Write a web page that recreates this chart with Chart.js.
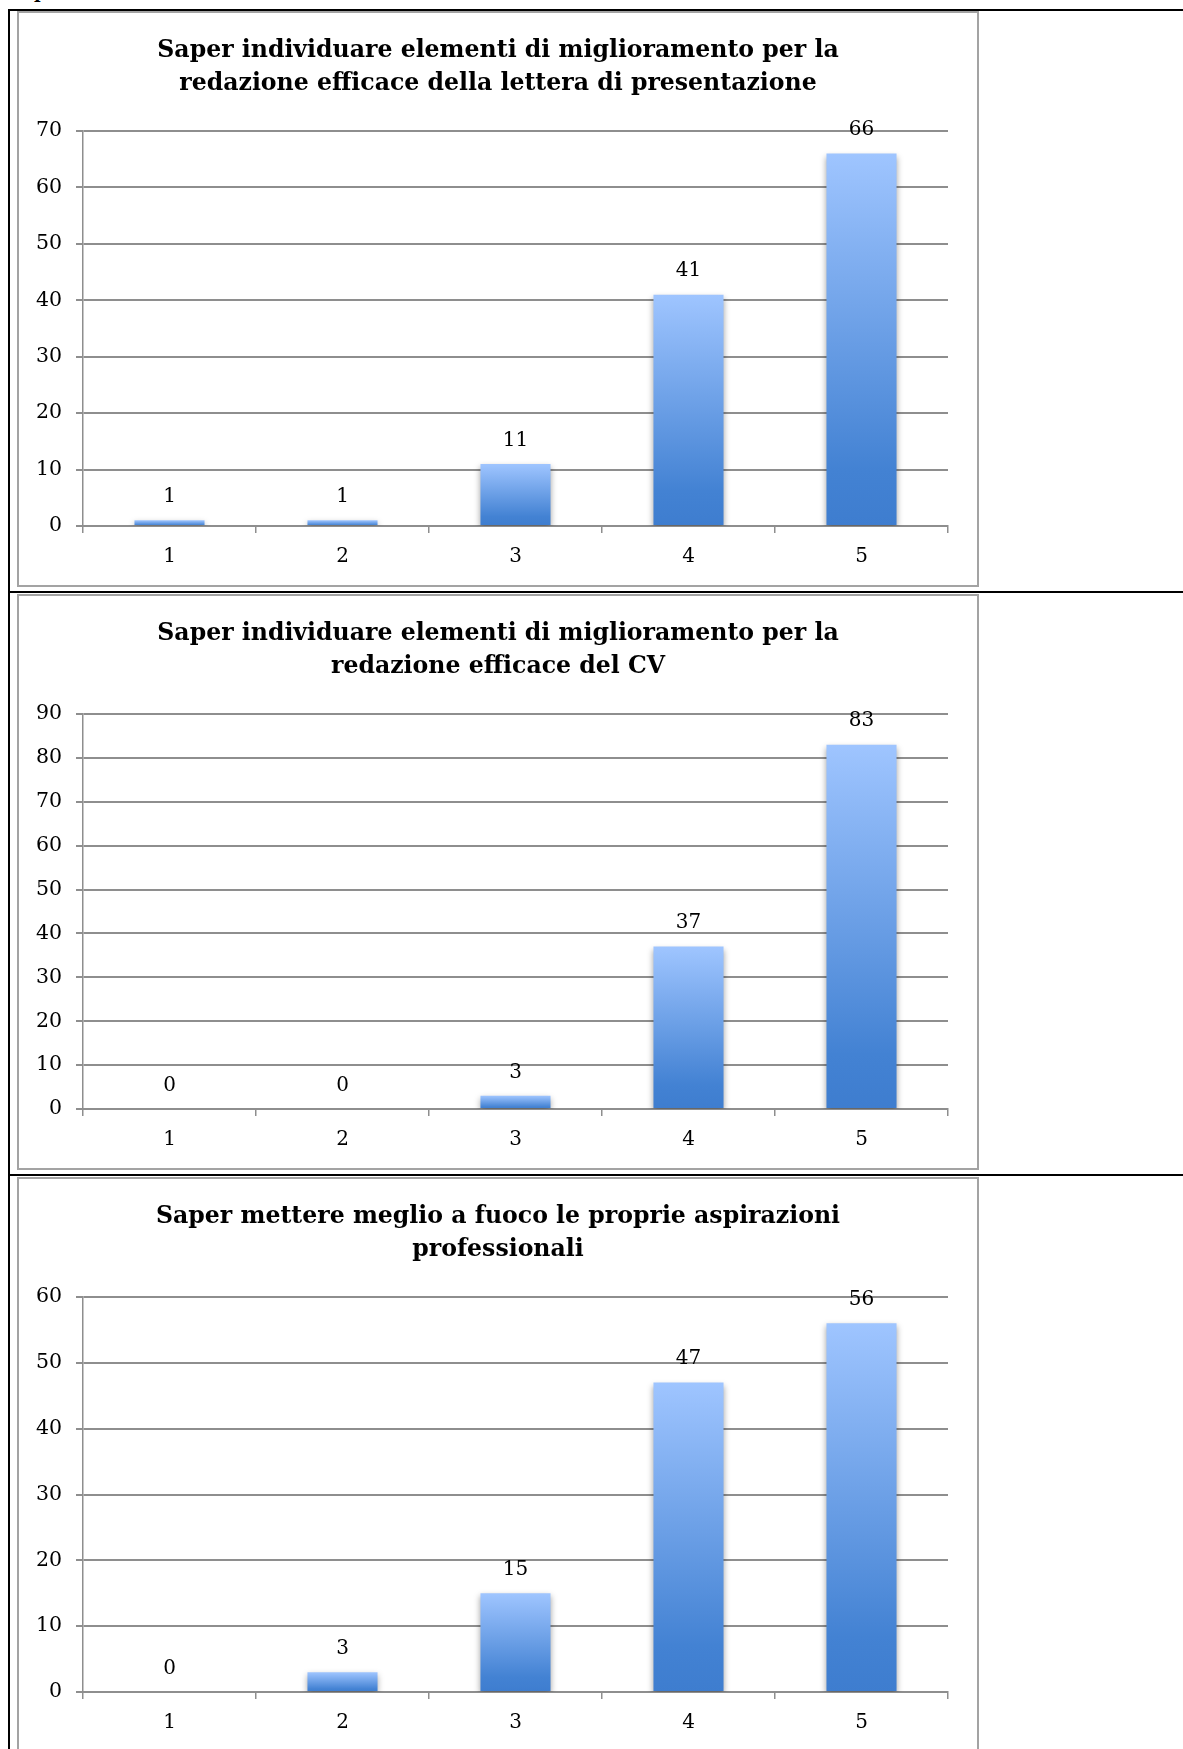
<!DOCTYPE html>
<html>
<head>
<meta charset="utf-8">
<script src="https://cdn.jsdelivr.net/npm/chart.js@4.4.1/dist/chart.umd.min.js"></script>
<style>
  body { margin: 0; background: #fff; width: 1183px; height: 1749px; position: relative; overflow: hidden; }
  .hline { position: absolute; left: 8px; right: 0; height: 2px; background: #000; }
  .vline { position: absolute; left: 8px; top: 9px; bottom: 0; width: 2px; background: #000; }
  .frame { position: absolute; left: 17px; width: 962px; height: 576px; box-sizing: border-box; border: 2px solid #a3a3a3; }
  .frame canvas { position: absolute; left: 0; top: 0; }
  .frag { position: absolute; left: 34px; top: -19px; font: bold 18px "DejaVu Serif", serif; color: #000; }
</style>
</head>
<body>
<div class="frag">p</div>
<div class="hline" style="top:9px"></div>
<div class="vline"></div>
<div class="frame" style="top:11px"><canvas id="chart_lettera" width="958" height="572"></canvas></div>
<div class="hline" style="top:591px"></div>
<div class="frame" style="top:594px"><canvas id="chart_cv" width="958" height="572"></canvas></div>
<div class="hline" style="top:1174px"></div>
<div class="frame" style="top:1177px"><canvas id="chart_aspirazioni" width="958" height="572"></canvas></div>

<script>
// categorie (punteggi 1-5)
const categories = ['1', '2', '3', '4', '5'];

// grafico 1 - lettera di presentazione
const titleLettera = ['Saper individuare elementi di miglioramento per la', 'redazione efficace della lettera di presentazione'];
const valuesLettera = [1, 1, 11, 41, 66];
const maxLettera = 70;

// grafico 2 - CV
const titleCV = ['Saper individuare elementi di miglioramento per la', 'redazione efficace del CV'];
const valuesCV = [0, 0, 3, 37, 83];
const maxCV = 90;

// grafico 3 - aspirazioni professionali
const titleAspirazioni = ['Saper mettere meglio a fuoco le proprie aspirazioni', 'professionali'];
const valuesAspirazioni = [0, 3, 15, 47, 56];
const maxAspirazioni = 60;

const stepY = 10;

const fontFamily = '"DejaVu Serif", "Liberation Serif", serif';
const gridColor = '#8e8e8e';

// colore a gradiente per ogni barra
function barGradient(context) {
  const chart = context.chart;
  if (!chart.chartArea || context.type !== 'data') return '#7aa7ea';
  const yScale = chart.scales.y;
  const top = yScale.getPixelForValue(context.raw);
  const bottom = yScale.getPixelForValue(0);
  if (bottom - top < 1) return '#7aa7ea';
  const g = chart.ctx.createLinearGradient(0, top, 0, bottom);
  g.addColorStop(0, '#9fc5ff');
  g.addColorStop(0.85, '#4382d3');
  g.addColorStop(1, '#3e7dcf');
  return g;
}

// ombra sotto le barre + etichette valori
const barDecor = {
  id: 'barDecor',
  beforeDatasetsDraw(chart) {
    const ctx = chart.ctx;
    ctx.save();
    ctx.shadowColor = 'rgba(0,0,0,0.35)';
    ctx.shadowBlur = 6;
    ctx.shadowOffsetY = 3;
  },
  afterDatasetsDraw(chart) {
    const ctx = chart.ctx;
    ctx.restore();
    ctx.save();
    ctx.font = '20px ' + fontFamily;
    ctx.fillStyle = '#000';
    ctx.textAlign = 'center';
    ctx.textBaseline = 'middle';
    const meta = chart.getDatasetMeta(0);
    meta.data.forEach(function (bar, i) {
      ctx.fillText(chart.data.datasets[0].data[i], bar.x, bar.y - 23.5);
    });
    ctx.restore();
  }
};

function makeChart(id, title, values, yMax) {
  let ctx = document.getElementById(id);
  let config = {
    type: 'bar',
    data: {
      labels: categories,
      datasets: [{
        data: values,
        backgroundColor: barGradient,
        borderWidth: 0,
        barPercentage: 1,
        categoryPercentage: 0.405
      }]
    },
    options: {
      responsive: false,
      animation: false,
      layout: { padding: 0 },
      plugins: {
        legend: { display: false },
        tooltip: { enabled: false },
        title: {
          display: true,
          text: title,
          color: '#000',
          font: { family: fontFamily, size: 23.6, weight: 'bold', lineHeight: 1.42 },
          padding: { top: 21, bottom: 30 }
        }
      },
      scales: {
        x: {
          grid: { display: true, drawOnChartArea: false, drawTicks: true, tickLength: 7, color: gridColor, lineWidth: 1.5, offset: true },
          border: { display: true, color: gridColor, width: 2 },
          ticks: { color: '#000', font: { family: fontFamily, size: 20 }, padding: 12 },
          afterFit: function (scale) { scale.height = 59; }
        },
        y: {
          min: 0,
          max: yMax,
          ticks: { stepSize: stepY, color: '#000', font: { family: fontFamily, size: 20.5 }, padding: 14 },
          grid: { color: gridColor, lineWidth: 2, tickLength: 7 },
          border: { display: true, color: gridColor, width: 1.5 },
          afterFit: function (scale) { scale.width = 64; }
        },
        // asse vuoto a destra solo per lasciare margine
        yRight: {
          position: 'right',
          display: true,
          grid: { display: false },
          border: { display: false },
          ticks: { display: false },
          afterFit: function (scale) { scale.width = 29; }
        }
      }
    },
    plugins: [barDecor]
  };
  return new Chart(ctx, config);
}

makeChart('chart_lettera', titleLettera, valuesLettera, maxLettera);
makeChart('chart_cv', titleCV, valuesCV, maxCV);
makeChart('chart_aspirazioni', titleAspirazioni, valuesAspirazioni, maxAspirazioni);
</script>
</body>
</html>
